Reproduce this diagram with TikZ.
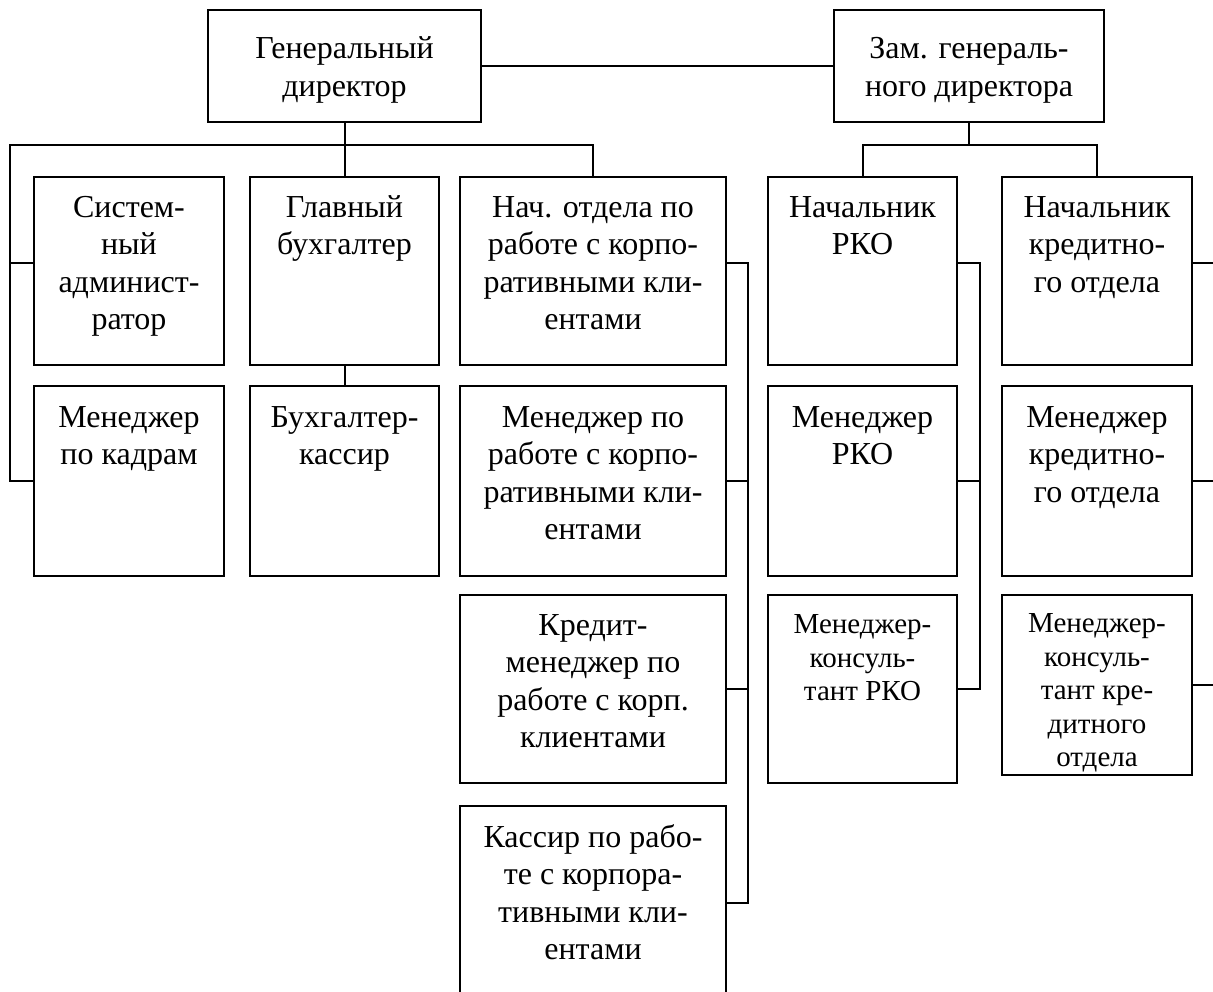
\documentclass[tikz,border=0pt]{standalone}
\usepackage{fontspec}
\setmainfont{Liberation Serif}
\tikzset{
  box/.style={draw, line width=2pt, inner sep=0pt, rectangle},
  txt/.style={anchor=north, align=center, inner sep=0pt, font=\fontsize{32}{37.5}\selectfont},
  txs/.style={anchor=north, align=center, inner sep=0pt, font=\fontsize{29}{33.5}\selectfont},
  txc/.style={anchor=center, align=center, inner sep=0pt, font=\fontsize{32}{37.5}\selectfont},
  conn/.style={line width=2pt}
}
\newcommand\bx[5]{\node[box, minimum width={#4-#2}, minimum height={#5-#3}] (#1) at ({(#2+#4)/2},{(#3+#5)/2}) {};}
\begin{document}
\begin{tikzpicture}[x=1pt,y=-1pt]
\useasboundingbox (0,0) rectangle (1213,991);
\clip (0,0) rectangle (1213,991);
% top boxes
\bx{gd}{208}{10}{481}{122}
\bx{zam}{834}{10}{1104}{122}
\node[txc] (gdt) at ([yshift=-4pt]gd.center) {\strut Генеральный\\директор\strut};
\node[txc] (zamt) at ([yshift=-4pt]zam.center) {\strut Зам. генераль-\\ного директора\strut};
% column 1
\bx{sa}{34}{177}{224}{365}
\bx{mk}{34}{386}{224}{576}
% column 2
\bx{gb}{250}{177}{439}{365}
\bx{bk}{250}{386}{439}{576}
% column 3
\bx{nach}{460}{177}{726}{365}
\bx{mpk}{460}{386}{726}{576}
\bx{km}{460}{595}{726}{783}
\bx{kas}{460}{806}{726}{1000}
% column 4
\bx{nrko}{768}{177}{957}{365}
\bx{mrko}{768}{386}{957}{576}
\bx{mkrko}{768}{595}{957}{783}
% column 5
\bx{nko}{1002}{177}{1192}{365}
\bx{mko}{1002}{386}{1192}{576}
\bx{mkko}{1002}{595}{1192}{775}
% texts
\node[txt] (sat) at ([yshift=-15pt]sa.north) {\strut Систем-\\ный\\админист-\\ратор};
\node[txt] (mkt) at ([yshift=-16pt]mk.north) {\strut Менеджер\\по кадрам};
\node[txt] (gbt) at ([yshift=-15pt]gb.north) {\strut Главный\\бухгалтер};
\node[txt] (bkt) at ([yshift=-16pt]bk.north) {\strut Бухгалтер-\\кассир};
\node[txt] (nacht) at ([yshift=-15pt]nach.north) {\strut Нач. отдела по\\работе с корпо-\\ративными кли-\\ентами};
\node[txt] (mpkt) at ([yshift=-16pt]mpk.north) {\strut Менеджер по\\работе с корпо-\\ративными кли-\\ентами};
\node[txt] (kmt) at ([yshift=-15pt]km.north) {\strut Кредит-\\менеджер по\\работе с корп.\\клиентами};
\node[txt] (kast) at ([yshift=-16pt]kas.north) {\strut Кассир по рабо-\\те с корпора-\\тивными кли-\\ентами};
\node[txt] (nrkot) at ([yshift=-15pt]nrko.north) {\strut Начальник\\РКО};
\node[txt] (mrkot) at ([yshift=-16pt]mrko.north) {\strut Менеджер\\РКО};
\node[txs] (mkrkot) at ([yshift=-16pt]mkrko.north) {\strut Менеджер-\\консуль-\\тант РКО};
\node[txt] (nkot) at ([yshift=-15pt]nko.north) {\strut Начальник\\кредитно-\\го отдела};
\node[txt] (mkot) at ([yshift=-16pt]mko.north) {\strut Менеджер\\кредитно-\\го отдела};
\node[txs] (mkkot) at ([yshift=-15pt]mkko.north) {\strut Менеджер-\\консуль-\\тант кре-\\дитного\\отдела};
% connectors
\coordinate (L) at (10,145);
\coordinate (s1) at (10,263);
\coordinate (r3) at (748,263);
\coordinate (r4) at (980,263);
\coordinate (r5) at (1214,263);
\draw[conn] (gd.east) -- (zam.west);
\draw[conn] (gd.south) -- (gb.north);
\draw[conn] (gb.south) -- (bk.north);
\draw[conn] (mk.west) -| (L) -| (nach.north);
\draw[conn] (s1) -- (s1 -| sa.west);
\draw[conn] (nach.east |- r3) -- (r3) |- (kas.east);
\draw[conn] (mpk.east) -- (mpk.east -| r3);
\draw[conn] (km.east) -- (km.east -| r3);
\draw[conn] (zam.south) -- (zam.south |- L);
\draw[conn] (nrko.north) |- (nko.north |- L) -- (nko.north);
\draw[conn] (nrko.east |- r4) -- (r4) |- (mkrko.east);
\draw[conn] (mrko.east) -- (mrko.east -| r4);
\draw[conn] (nko.east |- r5) -- (r5) |- (mkko.east);
\draw[conn] (mko.east) -- (mko.east -| r5);
\end{tikzpicture}
\end{document}
